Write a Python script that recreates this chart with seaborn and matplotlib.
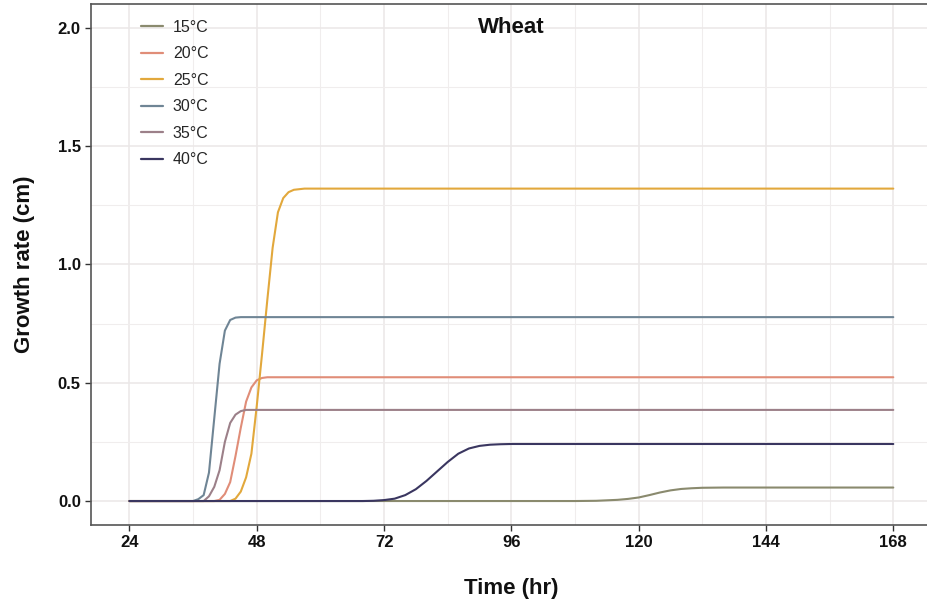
import matplotlib
matplotlib.use("Agg")
import matplotlib.pyplot as plt
import seaborn as sns
import pandas as pd
from matplotlib.ticker import MultipleLocator

# ---- data ----
labels = ["15°C", "20°C", "25°C", "30°C", "35°C", "40°C"]

t_15 = [24, 108, 112, 116, 118, 120, 122, 124, 126, 128, 130, 132, 136, 168]
v_15 = [0, 0, 0.001, 0.005, 0.009, 0.015, 0.025, 0.036, 0.045, 0.051, 0.054, 0.056, 0.057, 0.057]

t_20 = [24, 40, 41, 42, 43, 44, 45, 46, 47, 48, 49, 50, 168]
v_20 = [0, 0, 0.005, 0.03, 0.08, 0.19, 0.31, 0.42, 0.48, 0.51, 0.52, 0.523, 0.523]

t_25 = [24, 43, 44, 45, 46, 47, 48, 49, 50, 51, 52, 53, 54, 55, 57, 168]
v_25 = [0, 0, 0.01, 0.04, 0.10, 0.20, 0.40, 0.62, 0.85, 1.07, 1.22, 1.28, 1.305, 1.315, 1.32, 1.32]

t_30 = [24, 36, 37, 38, 39, 40, 41, 42, 43, 44, 45, 168]
v_30 = [0, 0, 0.008, 0.025, 0.12, 0.35, 0.58, 0.72, 0.765, 0.775, 0.777, 0.777]

t_35 = [24, 38, 39, 40, 41, 42, 43, 44, 45, 46, 168]
v_35 = [0, 0, 0.02, 0.06, 0.13, 0.25, 0.33, 0.365, 0.38, 0.385, 0.385]

t_40 = [24, 68, 70, 72, 74, 76, 78, 80, 82, 84, 86, 88, 90, 92, 94, 96, 168]
v_40 = [0, 0, 0.001, 0.004, 0.01, 0.025, 0.05, 0.085, 0.125, 0.165, 0.2, 0.222, 0.233, 0.238, 0.24, 0.241, 0.241]

x_ticks = [24, 48, 72, 96, 120, 144, 168]
y_ticks = [0.0, 0.5, 1.0, 1.5, 2.0]

colors = {
    "15°C": "#8a8a6e",
    "20°C": "#e08d78",
    "25°C": "#e2a83c",
    "30°C": "#6f8595",
    "35°C": "#9c8089",
    "40°C": "#3a3660",
}

series = [(t_15, v_15), (t_20, v_20), (t_25, v_25), (t_30, v_30), (t_35, v_35), (t_40, v_40)]
frames = []
for lab, (t, v) in zip(labels, series):
    frames.append(pd.DataFrame({"Time": t, "Growth": v, "Temp": lab}))
df = pd.concat(frames, ignore_index=True)

# ---- plot ----
sns.set_theme(style="white")
plt.rcParams["font.family"] = ["Liberation Sans", "DejaVu Sans"]

fig = plt.figure(figsize=(9.28, 6.04), dpi=100)
ax = fig.add_axes([91.2 / 928, 79.3 / 604, 840.3 / 928, 520.7 / 604])

sns.lineplot(data=df, x="Time", y="Growth", hue="Temp", hue_order=labels,
             palette=colors, linewidth=1.5, ax=ax, estimator=None, sort=True)

ax.set_xlim(16.8, 175.2)
ax.set_ylim(-0.1, 2.1)
ax.set_xticks(x_ticks)
ax.set_yticks(y_ticks)
ax.set_yticklabels([f"{v:.1f}" for v in y_ticks])
ax.xaxis.set_minor_locator(MultipleLocator(12))
ax.yaxis.set_minor_locator(MultipleLocator(0.25))

ax.grid(True, which="major", color="#ebe7e7", linewidth=1.1)
ax.grid(True, which="minor", color="#f0eded", linewidth=0.8)
ax.set_axisbelow(True)

for s in ["left", "top", "bottom"]:
    ax.spines[s].set_color("#555555")
    ax.spines[s].set_linewidth(1.2)
ax.spines["right"].set_visible(False)

ax.tick_params(axis="both", which="major", length=4, width=1.0, color="#333333",
               labelsize=12, labelcolor="#111111", direction="out", left=True, bottom=True)
ax.tick_params(axis="both", which="minor", length=0)
for lbl in ax.get_xticklabels() + ax.get_yticklabels():
    lbl.set_fontweight("bold")

ax.set_xlabel("Time (hr)", fontsize=16, fontweight="bold", labelpad=20, color="#111111")
ax.set_ylabel("Growth rate (cm)", fontsize=16, fontweight="bold", labelpad=16, color="#111111")

ax.text(96, 2.0, "Wheat", fontsize=16, fontweight="bold", ha="center", va="center", color="#111111")

leg = ax.legend(loc="upper left", bbox_to_anchor=(0.042, 0.997), frameon=False,
                fontsize=11.5, handlelength=1.4, handletextpad=0.6, labelspacing=0.72,
                title=None)
for line in leg.get_lines():
    line.set_linewidth(1.6)

fig.savefig("out.png", dpi=100)
